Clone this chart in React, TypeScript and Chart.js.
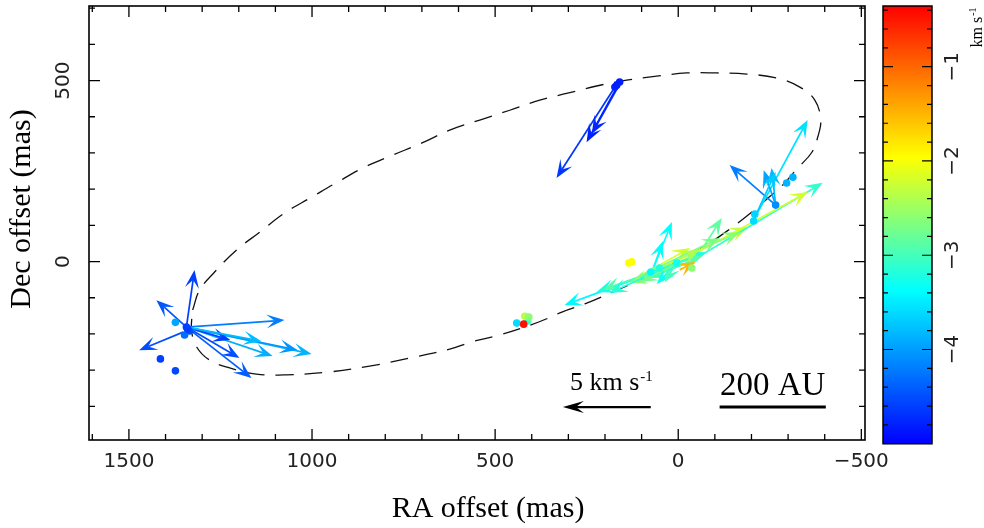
import React, { useEffect, useRef } from 'react';
import { Chart, registerables } from 'chart.js';

Chart.register(...registerables);

// ---------- axes ----------
const raRange = [-510, 1609]; // RA offset axis (mas), drawn reversed
const decRange = [-493, 706]; // Dec offset axis (mas)
const xTickValues = [1500, 1000, 500, 0, -500];
const xTickLabels = ['1500', '1000', '500', '0', '\u2212500'];
const yTickValues = [0, 500];
const yTickLabels = ['0', '500'];
const cbAxisRange = [-4.96, -0.356];
const vlosRange = [-5.0, -0.356];
const cbTickValues = [-1, -2, -3, -4];
const cbTickLabels = ['\u22121', '\u22122', '\u22123', '\u22124'];

// ---------- fitted ring (dashed) ----------
const ringRA = [1326, 1307, 1266, 1206, 1143, 1075, 1001, 930, 856, 780, 701, 624, 542, 460, 378, 302, 223, 141, 59, -23, -105, -187, -269, -332, -373, -389, -381, -365, -326, -285, -239, -190, -133, -78, -18, 45, 105, 179, 255, 316, 381, 488, 564, 624, 734, 843, 952, 1070, 1152, 1225, 1280, 1315, 1329, 1326];
const ringDec = [-134, -79, -29, 32, 81, 134, 178, 220, 261, 294, 327, 363, 391, 418, 446, 465, 485, 501, 512, 521, 521, 518, 507, 482, 446, 391, 344, 302, 258, 211, 170, 128, 84, 46, 10, -21, -51, -84, -117, -139, -167, -203, -222, -242, -267, -289, -305, -313, -311, -294, -272, -236, -189, -134];

// ---------- maser spots ----------
const spotRA = [1343, 1335, 1373, 1414, 1373, 1348, 1340, 173, 168, 160, -266, -313, -296, -209, -206, 75, 4, -37, 135, 127, 51, 441, 411, 419, 408, 422];
const spotDec = [-181, -192, -168, -269, -302, -203, -186, 482, 487, 496, 156, 233, 217, 131, 112, -29, -4, -18, -4, -1, -18, -170, -164, -151, -153, -173];
const spotVlos = [-4.6, -4.5, -3.95, -4.6, -4.55, -4.3, -4.6, -4.75, -4.8, -4.8, -4.1, -3.85, -3.85, -3.65, -3.6, -3.4, -3.3, -2.6, -1.95, -1.95, -3.2, -3.6, -3.1, -2.35, -2.6, -0.45];

// ---------- proper motions (tail in mas, velocity in km/s) ----------
const pmRA = [1343, 1343, 1352, 1343, 1343, 1343, 1343, 1343, 1343, 1343, 1343, 171, 163, 157, -266, -206, -266, -266, -206, 72, 72, -67, 7, 7, 23, -31, -31, 72, -31, -4, 105, 92, 51, -4, 7, 7, 105, -67, 23, 51, -4];
const pmDec = [-181, -181, -195, -181, -181, -181, -181, -181, -181, -181, -181, 485, 490, 496, 156, 115, 156, 156, 115, -29, -29, 37, -7, -7, -12, -1, -1, -29, -1, -1, -40, -35, -18, -23, -7, -7, -40, 37, -12, -18, -1];
const pmVRA = [-0.46, 1.71, 2.5, -5.58, -7.12, -6.32, -4.9, -3.02, -3.7, -2.5, -4.27, 3.36, 1.82, 1.65, 2.62, -3.07, 0.68, 0.23, -1.25, -1.14, -0.63, -1.08, 6.32, 4.5, 3.81, 3.42, 2.28, -5.46, -7.57, -7.29, -2.85, -3.53, -2.45, -0.91, 1.08, 0.63, -4.55, -2.11, 3.42, -2.28, 2.28];
const pmVDec = [3.28, 1.55, -1.04, 0.4, -1.55, -1.32, -1.67, -1.78, -2.93, -0.75, -0.81, -5.29, -3.34, -2.99, 2.3, 5.75, 2.01, 2.13, 2.76, 2.88, 1.78, 1.73, -2.36, -1.61, -1.38, -1.21, -0.92, 2.59, 4.55, 4.03, 1.61, 1.27, 0.69, 0.46, -1.15, -1.04, 2.19, 0.92, -1.55, 1.04, -1.15];
const pmVlos = [-4.6, -4.45, -4.5, -4.2, -3.85, -4.05, -3.9, -4.5, -4.4, -4.6, -3.8, -4.65, -4.8, -4.75, -4.2, -3.55, -3.95, -3.8, -3.7, -3.35, -3.35, -2.85, -3.4, -3.25, -2.9, -2.6, -3.0, -2.3, -3.1, -2.2, -2.2, -3.2, -2.9, -1.5, -3.3, -3.0, -2.7, -2.6, -3.15, -2.4, -2.75];

// ---------- legend items ----------
const masPerKms = 48;
const legendArrowKms = 5;
const legendArrowTail = [75, -402];
const scaleBarRA = [-113, -403];
const scaleBarDec = -402;

const SERIF = '"Liberation Serif", "Times New Roman", serif';
const SANS = '"DejaVu Sans", "Liberation Sans", sans-serif';

const cmapStops: [number, number[]][] = [
  [0, [0, 0, 255]],
  [0.35, [0, 255, 255]],
  [0.655, [255, 255, 0]],
  [1, [255, 0, 0]],
];

function cmap(v: number): string {
  const t = Math.min(1, Math.max(0, (v - vlosRange[0]) / (vlosRange[1] - vlosRange[0])));
  for (let i = 1; i < cmapStops.length; i++) {
    if (t <= cmapStops[i][0]) {
      const [t0, c0] = cmapStops[i - 1];
      const [t1, c1] = cmapStops[i];
      const f = (t - t0) / (t1 - t0);
      return 'rgb(' + c0.map((c, k) => Math.round(c + (c1[k] - c) * f)).join(',') + ')';
    }
  }
  return 'rgb(255,0,0)';
}

function drawArrow(ctx: CanvasRenderingContext2D, x0: number, y0: number, x1: number, y1: number, color: string, lw: number, hl: number, hw: number, notch: number) {
  const dx = x1 - x0, dy = y1 - y0;
  const L = Math.hypot(dx, dy) || 1;
  const ux = dx / L, uy = dy / L;
  const px = -uy, py = ux;
  const bx = x1 - ux * hl, by = y1 - uy * hl;
  const nx = x1 - ux * hl * notch, ny = y1 - uy * hl * notch;
  ctx.strokeStyle = color;
  ctx.fillStyle = color;
  ctx.lineWidth = lw;
  ctx.beginPath();
  ctx.moveTo(x0, y0);
  ctx.lineTo(nx, ny);
  ctx.stroke();
  ctx.beginPath();
  ctx.moveTo(x1, y1);
  ctx.lineTo(bx + px * hw, by + py * hw);
  ctx.lineTo(nx, ny);
  ctx.lineTo(bx - px * hw, by - py * hw);
  ctx.closePath();
  ctx.fill();
}

// draws base text + superscript, centered on (cx, baseline)
function drawSup(ctx: CanvasRenderingContext2D, cx: number, baseline: number, base: string, sup: string, baseSize: number, supSize: number, rise: number) {
  ctx.font = baseSize + 'px ' + SERIF;
  const wb = ctx.measureText(base).width;
  ctx.font = supSize + 'px ' + SERIF;
  const ws = ctx.measureText(sup).width;
  const start = cx - (wb + ws) / 2;
  ctx.textAlign = 'left';
  ctx.textBaseline = 'alphabetic';
  ctx.font = baseSize + 'px ' + SERIF;
  ctx.fillText(base, start, baseline);
  ctx.font = supSize + 'px ' + SERIF;
  ctx.fillText(sup, start + wb + 1, baseline - rise);
}

const decorPlugin = {
  id: 'decor',
  afterDatasetDraw(chart: any, args: any) {
    if (args.index !== 1) return;
    const { ctx } = chart;
    const xs = chart.scales.x, ys = chart.scales.y;
    ctx.save();
    for (let i = 0; i < pmRA.length; i++) {
      const x0 = xs.getPixelForValue(pmRA[i]);
      const y0 = ys.getPixelForValue(pmDec[i]);
      const x1 = xs.getPixelForValue(pmRA[i] + pmVRA[i] * masPerKms);
      const y1 = ys.getPixelForValue(pmDec[i] + pmVDec[i] * masPerKms);
      drawArrow(ctx, x0, y0, x1, y1, cmap(pmVlos[i]), 1.7, 18, 7, 0.55);
    }
    ctx.restore();
  },
  afterDraw(chart: any) {
    const { ctx, chartArea: ca } = chart;
    const xs = chart.scales.x, ys = chart.scales.y, cb = chart.scales.cb;
    ctx.save();
    ctx.fillStyle = '#000';
    ctx.strokeStyle = '#000';

    // frame
    ctx.lineWidth = 1.6;
    ctx.strokeRect(ca.left, ca.top, ca.right - ca.left, ca.bottom - ca.top);

    // inward ticks
    ctx.lineWidth = 1.3;
    ctx.beginPath();
    for (let v = -500; v <= 1600; v += 100) {
      const px = xs.getPixelForValue(v);
      if (px < ca.left || px > ca.right) continue;
      const len = v % 500 === 0 ? 11 : 6;
      ctx.moveTo(px, ca.bottom); ctx.lineTo(px, ca.bottom - len);
      ctx.moveTo(px, ca.top); ctx.lineTo(px, ca.top + len);
    }
    for (let v = -400; v <= 700; v += 100) {
      const py = ys.getPixelForValue(v);
      if (py < ca.top || py > ca.bottom) continue;
      const len = v % 500 === 0 ? 11 : 6;
      ctx.moveTo(ca.left, py); ctx.lineTo(ca.left + len, py);
      ctx.moveTo(ca.right, py); ctx.lineTo(ca.right - len, py);
    }
    ctx.stroke();

    // tick labels
    ctx.fillStyle = '#222';
    ctx.font = '20px ' + SANS;
    ctx.textAlign = 'center';
    ctx.textBaseline = 'middle';
    xTickValues.forEach((v, i) => {
      ctx.fillText(xTickLabels[i], xs.getPixelForValue(v), 462);
    });
    yTickValues.forEach((v, i) => {
      ctx.save();
      ctx.translate(64, ys.getPixelForValue(v));
      ctx.rotate(-Math.PI / 2);
      ctx.fillText(yTickLabels[i], 0, 0);
      ctx.restore();
    });

    // axis titles
    ctx.fillStyle = '#000';
    ctx.font = '30px ' + SERIF;
    ctx.textAlign = 'center';
    ctx.textBaseline = 'middle';
    ctx.fillText('RA offset (mas)', 488, 509);
    ctx.save();
    ctx.translate(22, 209);
    ctx.rotate(-Math.PI / 2);
    ctx.fillText('Dec offset (mas)', 0, 0);
    ctx.restore();

    // 5 km/s legend arrow
    const lx0 = xs.getPixelForValue(legendArrowTail[0]);
    const ly = ys.getPixelForValue(legendArrowTail[1]);
    const lx1 = xs.getPixelForValue(legendArrowTail[0] + legendArrowKms * masPerKms);
    drawArrow(ctx, lx0, ly, lx1, ly, '#000', 2.2, 21, 6, 0.62);
    ctx.fillStyle = '#000';
    drawSup(ctx, (lx0 + lx1) / 2 + 4, ly - 17, legendArrowKms + ' km s', '-1', 26, 15, 9);

    // 200 AU scale bar
    const sx0 = xs.getPixelForValue(scaleBarRA[0]);
    const sx1 = xs.getPixelForValue(scaleBarRA[1]);
    const sy = ys.getPixelForValue(scaleBarDec);
    ctx.lineWidth = 3;
    ctx.strokeStyle = '#000';
    ctx.beginPath();
    ctx.moveTo(sx0, sy); ctx.lineTo(sx1, sy);
    ctx.stroke();
    ctx.font = '33px ' + SERIF;
    ctx.textAlign = 'center';
    ctx.textBaseline = 'alphabetic';
    ctx.fillText('200 AU', (sx0 + sx1) / 2, sy - 12);

    // colour bar
    const bx0 = cb.left + 18, bx1 = cb.left + 67;
    const yb = cb.getPixelForValue(vlosRange[0]);
    const yt = cb.getPixelForValue(vlosRange[1]);
    const g = ctx.createLinearGradient(0, yb, 0, yt);
    cmapStops.forEach(([t, c]) => g.addColorStop(t, 'rgb(' + c.join(',') + ')'));
    ctx.fillStyle = g;
    ctx.fillRect(bx0, yt, bx1 - bx0, yb - yt);
    ctx.lineWidth = 1.5;
    ctx.strokeStyle = '#000';
    ctx.strokeRect(bx0, yt, bx1 - bx0, yb - yt);
    ctx.lineWidth = 1.2;
    ctx.beginPath();
    for (let k = -24; k <= -2; k++) {
      const py = cb.getPixelForValue(k / 5);
      const len = k % 5 === 0 ? 10 : 5;
      ctx.moveTo(bx0, py); ctx.lineTo(bx0 + len, py);
      ctx.moveTo(bx1, py); ctx.lineTo(bx1 - len, py);
    }
    ctx.stroke();
    ctx.fillStyle = '#222';
    ctx.font = '20px ' + SANS;
    ctx.textAlign = 'center';
    ctx.textBaseline = 'middle';
    cbTickValues.forEach((v, i) => {
      ctx.save();
      ctx.translate(953, cb.getPixelForValue(v));
      ctx.rotate(-Math.PI / 2);
      ctx.fillText(cbTickLabels[i], 0, 0);
      ctx.restore();
    });
    ctx.fillStyle = '#000';
    ctx.save();
    ctx.translate(982, 28);
    ctx.rotate(-Math.PI / 2);
    drawSup(ctx, 0, 0, 'km s', '-1', 16, 10, 6);
    ctx.restore();

    ctx.restore();
  },
};

export default function App() {
  const ref = useRef<HTMLCanvasElement | null>(null);
  useEffect(() => {
    if (!ref.current) return;
    const spots = spotRA.map((x, i) => ({ x, y: spotDec[i] }));
    const ring = ringRA.map((x, i) => ({ x, y: ringDec[i] }));
    const chart = new Chart(ref.current, {
      type: 'scatter',
      data: {
        datasets: [
          {
            label: 'maser spots',
            data: spots,
            pointRadius: 3.8,
            pointBorderWidth: 0,
            pointBackgroundColor: spotVlos.map(cmap),
            showLine: false,
            order: 0,
          },
          {
            label: 'ring',
            data: ring,
            showLine: true,
            borderColor: '#111',
            borderWidth: 1.3,
            borderDash: [18, 11],
            pointRadius: 0,
            tension: 0.4,
            fill: false,
            order: 1,
          },
        ],
      },
      options: {
        animation: false,
        responsive: true,
        maintainAspectRatio: false,
        events: [],
        layout: { padding: { top: 6, left: 0, right: 0, bottom: 0 } },
        plugins: { legend: { display: false }, tooltip: { enabled: false } },
        scales: {
          x: {
            type: 'linear',
            position: 'bottom',
            min: raRange[0],
            max: raRange[1],
            reverse: true,
            grid: { display: false },
            border: { display: false },
            ticks: { display: false },
            afterFit: (s: any) => { s.height = 88; },
          },
          y: {
            type: 'linear',
            position: 'left',
            min: decRange[0],
            max: decRange[1],
            grid: { display: false },
            border: { display: false },
            ticks: { display: false },
            afterFit: (s: any) => { s.width = 89; },
          },
          cb: {
            type: 'linear',
            axis: 'y',
            position: 'right',
            min: cbAxisRange[0],
            max: cbAxisRange[1],
            grid: { display: false },
            border: { display: false },
            ticks: { display: false },
            afterFit: (s: any) => { s.width = 119; },
          },
        },
      } as any,
      plugins: [decorPlugin as any],
    });
    return () => chart.destroy();
  }, []);
  return (
    <div style={{ position: 'fixed', left: 0, top: 0, width: 984, height: 528, background: '#fff' }}>
      <canvas ref={ref} />
    </div>
  );
}
